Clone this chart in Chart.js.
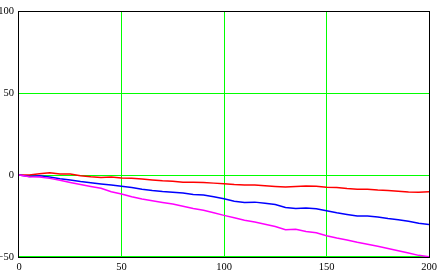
<!DOCTYPE html>
<html>
<head>
<meta charset="utf-8">
<script src="https://cdn.jsdelivr.net/npm/chart.js@4/dist/chart.umd.min.js"></script>
<style>
  html, body { margin: 0; padding: 0; background: #fff; }
  #wrap { width: 442px; height: 280px; }
</style>
</head>
<body>
<div id="wrap"><canvas id="graph" width="442" height="280"></canvas></div>
<script>
// données
const xValues = [0, 5, 10, 15, 20, 25, 30, 35, 40, 45, 50, 55, 60, 65, 70, 75, 80, 85, 90, 95, 100,
  105, 110, 115, 120, 125, 130, 135, 140, 145, 150, 155, 160, 165, 170, 175, 180, 185, 190, 195, 200];

const rouge = [0, 0, 0.8, 1.4, 0.6, 0.6, -0.4, -1, -1.4, -1.2, -1.8, -1.9, -2.4, -3, -3.5, -3.8, -4.3, -4.3, -4.5, -4.9, -5.3,
  -5.8, -6.1, -6.1, -6.5, -6.9, -7.3, -6.9, -6.7, -6.8, -7.4, -7.6, -8.2, -8.6, -8.6, -9.1, -9.4, -9.8, -10.3, -10.4, -10.2];

const bleu = [0, -0.8, -0.4, -1.2, -2.2, -3, -3.9, -4.6, -5.4, -6.1, -6.8, -7.6, -8.6, -9.4, -10, -10.4, -11, -11.8, -12.2, -13.2, -14.5,
  -15.9, -16.7, -16.5, -17.2, -17.9, -19.8, -20.4, -20.1, -20.5, -21.8, -23, -24, -25, -25, -25.6, -26.5, -27.2, -28.2, -29.4, -30.2];

const magenta = [0, -1, -1.2, -2, -3.2, -4.5, -5.7, -6.9, -8, -10.2, -11.6, -13.2, -14.6, -15.7, -16.7, -17.6, -19, -20.4, -21.5, -23, -24.6,
  -26, -27.5, -28.7, -30, -31.4, -33.4, -33, -34.4, -35.2, -37, -38.4, -39.6, -41, -42.2, -43.5, -44.8, -46.2, -47.5, -49, -49.8];

const xTicks = [0, 50, 100, 150, 200];
const yTicks = [-50, 0, 50, 100];

const vert = "#00ff00";

function points(serie) {
  return xValues.map((x, i) => ({ x: x, y: serie[i] }));
}

// grille verte + cadre noir, dessinés au pixel près
const grille = {
  id: "grille",
  beforeDatasetsDraw(chart) {
    const c = chart.ctx;
    const a = chart.chartArea;
    const sx = chart.scales.x;
    const sy = chart.scales.y;
    const l = Math.round(a.left), r = Math.round(a.right);
    const t = Math.round(a.top), b = Math.round(a.bottom);
    c.save();
    c.fillStyle = vert;
    xTicks.slice(1, -1).forEach((v) => {
      c.fillRect(Math.floor(sx.getPixelForValue(v)), t, 1, b - t);
    });
    yTicks.slice(0, -1).forEach((v) => {
      c.fillRect(l, Math.min(Math.floor(sy.getPixelForValue(v)), b - 1), r - l, 1);
    });
    c.fillStyle = "#000000";
    c.fillRect(l - 1, t, 1, b - t + 1);
    c.fillRect(r, t, 1, b - t + 1);
    c.fillRect(l - 1, t, r - l + 2, 1);
    c.fillRect(l - 1, b, r - l + 2, 1);
    c.restore();
  },
};

const police = { family: "Liberation Serif", size: 10.5 };

const ctx = document.getElementById("graph");
new Chart(ctx, {
  type: "line",
  data: {
    datasets: [
      { data: points(magenta), borderColor: "#ff00ff", borderWidth: 1.5, pointRadius: 0, tension: 0 },
      { data: points(bleu), borderColor: "#0000ff", borderWidth: 1.5, pointRadius: 0, tension: 0 },
      { data: points(rouge), borderColor: "#ff0000", borderWidth: 1.5, pointRadius: 0, tension: 0 },
    ],
  },
  options: {
    responsive: false,
    animation: false,
    layout: { padding: { left: 0, top: 9, right: 13, bottom: 0 } },
    plugins: { legend: { display: false }, tooltip: { enabled: false } },
    scales: {
      x: {
        type: "linear",
        min: xTicks[0],
        max: xTicks[xTicks.length - 1],
        afterBuildTicks: (s) => { s.ticks = xTicks.map((v) => ({ value: v })); },
        afterFit: (s) => { s.height = 23; },
        border: { display: false },
        grid: { display: false, drawTicks: false },
        ticks: { color: "#000", padding: 4, maxRotation: 0, font: police },
      },
      y: {
        min: yTicks[0],
        max: yTicks[yTicks.length - 1],
        afterBuildTicks: (s) => { s.ticks = yTicks.map((v) => ({ value: v })); },
        afterFit: (s) => { s.width = 19; },
        border: { display: false },
        grid: { display: false, drawTicks: false },
        ticks: {
          color: "#000",
          padding: 5,
          font: police,
          callback: (v) => String(v).replace("-", "\u2212"),
        },
      },
    },
  },
  plugins: [grille],
});
</script>
</body>
</html>
